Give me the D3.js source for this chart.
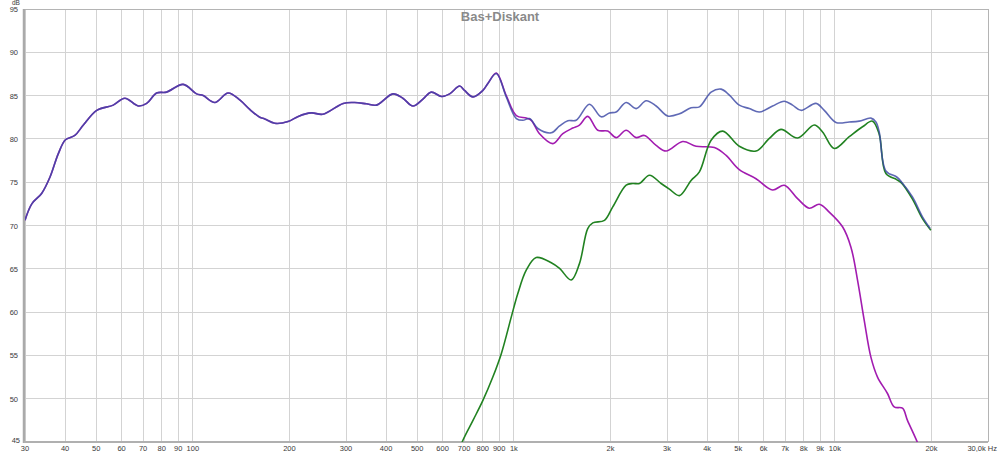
<!DOCTYPE html>
<html>
<head>
<meta charset="utf-8">
<script src="https://cdn.jsdelivr.net/npm/d3@7"></script>
<style>
  body { margin: 0; background: #fff; }
  svg { display: block; font-family: "Liberation Sans", Arial, sans-serif; }
</style>
</head>
<body>
<svg id="chart" width="1000" height="455"></svg>
<script>
// frequency response, values (Hz, dB)
const sumFreq = [30, 31.5, 33.8, 35.9, 38.1, 40.1, 42.9, 45.6, 50.2, 56.5, 61.4, 67.6, 71.8, 77.1, 82.8, 93.3, 102.7, 107.7, 117.1, 128.8, 140, 150.4, 161.6, 167.5, 180, 198, 213, 234, 254, 294, 319, 347, 373, 420, 451, 485, 521, 553, 595, 631, 678, 702, 746, 801, 830, 882, 947, 1018, 1067, 1119, 1188, 1308, 1388, 1473, 1564, 1720, 1871, 1985, 2083, 2238, 2404, 2583, 2775, 3015, 3280, 3566, 3785, 4116, 4422, 4693, 5039, 5415, 5818, 6398, 6959, 7384, 7842, 8733, 9269, 10080, 11088, 11910, 12951, 13425, 13746, 14421, 15582, 16150, 17452, 18749, 19815];
const sumDb = [70.6, 72.5, 73.7, 75.6, 78.3, 79.9, 80.4, 81.6, 83.3, 83.9, 84.7, 83.8, 84.1, 85.3, 85.4, 86.3, 85.2, 85.0, 84.2, 85.3, 84.5, 83.4, 82.5, 82.3, 81.8, 82.0, 82.6, 83.0, 82.85, 84.1, 84.2, 84.05, 83.9, 85.2, 84.7, 83.8, 84.6, 85.4, 84.9, 85.2, 86.1, 85.6, 84.85, 85.6, 86.4, 87.55, 84.85, 82.35, 82.15, 82.35, 81.2, 80.7, 81.5, 82.1, 82.15, 84.0, 82.55, 83.0, 83.1, 84.2, 83.5, 84.4, 83.8, 82.65, 82.9, 83.6, 83.7, 85.4, 85.75, 85.05, 83.9, 83.5, 83.1, 83.8, 84.35, 83.9, 83.3, 84.1, 83.3, 81.9, 81.95, 82.05, 82.4, 81.95, 80.8, 76.3, 75.6, 75.0, 73.3, 71.0, 69.65];

const bassFreq = [30, 31.5, 33.8, 35.9, 38.1, 40.1, 42.9, 45.6, 50.2, 56.5, 61.4, 67.6, 71.8, 77.1, 82.8, 93.3, 102.7, 107.7, 117.1, 128.8, 140, 150.4, 161.6, 167.5, 180, 198, 213, 234, 254, 294, 319, 347, 373, 420, 451, 485, 521, 553, 595, 631, 678, 702, 746, 801, 830, 882, 947, 1018, 1093, 1133, 1202, 1323, 1421, 1526, 1601, 1699, 1826, 1961, 2083, 2238, 2404, 2552, 2775, 2981, 3358, 3697, 4215, 4583, 5039, 5681, 6398, 6959, 7653, 8322, 8941, 9605, 10568, 11224, 11767, 12346, 12951, 13580, 14589, 15307, 16245, 16836, 18012, 18581];
const bassDb = [70.6, 72.5, 73.7, 75.6, 78.3, 79.9, 80.4, 81.6, 83.3, 83.9, 84.7, 83.8, 84.1, 85.3, 85.4, 86.3, 85.2, 85.0, 84.2, 85.3, 84.5, 83.4, 82.5, 82.3, 81.8, 82.0, 82.6, 83.0, 82.85, 84.1, 84.2, 84.05, 83.9, 85.2, 84.7, 83.8, 84.6, 85.4, 84.9, 85.2, 86.1, 85.6, 84.85, 85.6, 86.4, 87.6, 85.0, 82.7, 82.4, 82.15, 80.6, 79.45, 80.6, 81.25, 81.6, 82.6, 81.0, 80.9, 80.15, 81.0, 80.15, 80.4, 79.25, 78.6, 79.7, 79.15, 79.0, 78.1, 76.45, 75.4, 74.1, 74.65, 73.1, 72.0, 72.45, 71.55, 69.85, 67.5, 63.7, 59.05, 54.8, 52.5, 50.6, 49.05, 48.9, 47.5, 45.1, 43.8];

const trebleFreq = [654, 694, 746, 801, 860, 914, 982, 1029, 1093, 1174, 1308, 1388, 1509, 1601, 1699, 1762, 1916, 2033, 2238, 2346, 2462, 2645, 2876, 3052, 3280, 3566, 3785, 4116, 4472, 5039, 5681, 6250, 6795, 7653, 8627, 9156, 9958, 11088, 12196, 13101, 13746, 14421, 15582, 16150, 17452, 18749, 19914];
const trebleDb = [42.7, 45.2, 47.5, 49.8, 52.5, 55.2, 59.45, 62.15, 64.85, 66.3, 65.7, 65.05, 63.7, 65.6, 69.65, 70.3, 70.6, 72.15, 74.65, 74.85, 74.85, 75.8, 74.85, 74.2, 73.45, 75.2, 76.2, 79.85, 80.9, 79.15, 78.6, 80.05, 81.1, 80.1, 81.6, 80.8, 78.9, 80.25, 81.4, 82.05, 80.55, 76.0, 75.3, 74.9, 73.05, 70.8, 69.45];

const xTicks = [30, 40, 50, 60, 70, 80, 90, 100, 200, 300, 400, 500, 600, 700, 800, 900, 1000, 2000, 3000, 4000, 5000, 6000, 7000, 8000, 9000, 10000, 20000];
const xTickLabels = ["30", "40", "50", "60", "70", "80", "90", "100", "200", "300", "400", "500", "600", "700", "800", "900", "1k", "2k", "3k", "4k", "5k", "6k", "7k", "8k", "9k", "10k", "20k"];
const yTicks = [45, 50, 55, 60, 65, 70, 75, 80, 85, 90, 95];

const svg = d3.select("#chart");
const plotLeft = 25, plotRight = 988, plotTop = 9, plotBottom = 442;

const x = d3.scaleLog().domain([30, 30000]).range([plotLeft, plotRight]);
const y = d3.scaleLinear().domain([45, 95]).range([plotBottom, plotTop]);

// grid
svg.append("g")
	.selectAll("line")
	.data(xTicks)
	.enter().append("line")
	.attr("x1", d => x(d)).attr("x2", d => x(d))
	.attr("y1", plotTop).attr("y2", plotBottom)
	.attr("stroke", "#d3d3d3").attr("stroke-width", 1)
	.attr("shape-rendering", "crispEdges");

svg.append("g")
	.selectAll("line")
	.data(yTicks)
	.enter().append("line")
	.attr("x1", plotLeft).attr("x2", plotRight)
	.attr("y1", d => y(d)).attr("y2", d => y(d))
	.attr("stroke", "#d3d3d3").attr("stroke-width", 1)
	.attr("shape-rendering", "crispEdges");

// frame
svg.append("path")
	.attr("d", `M${plotLeft},${plotTop}H${plotRight}V${plotBottom}`)
	.attr("fill", "none").attr("stroke", "#b4b4b4").attr("stroke-width", 1)
	.attr("shape-rendering", "crispEdges");
svg.append("line")
	.attr("x1", plotLeft - 1).attr("x2", plotLeft - 1).attr("y1", plotTop).attr("y2", plotBottom + 1)
	.attr("stroke", "#aaa").attr("stroke-width", 2.5);
svg.append("line")
	.attr("x1", plotLeft - 1).attr("x2", plotRight).attr("y1", plotBottom).attr("y2", plotBottom)
	.attr("stroke", "#b0b0b0").attr("stroke-width", 2);

// labels
svg.append("g")
	.selectAll("text")
	.data(xTicks)
	.enter().append("text")
	.attr("x", d => x(d)).attr("y", 451)
	.attr("text-anchor", "middle")
	.attr("font-size", 7.5).attr("fill", "#3a3a3a")
	.text((d, i) => xTickLabels[i]);

svg.append("text")
	.attr("x", 997).attr("y", 451)
	.attr("text-anchor", "end")
	.attr("font-size", 7.5).attr("fill", "#3a3a3a")
	.text("30,0k Hz");

svg.append("g")
	.selectAll("text")
	.data(yTicks)
	.enter().append("text")
	.attr("x", d => d === 45 ? 20 : 18)
	.attr("y", d => d === 45 ? y(d) + 1 : y(d) + 3)
	.attr("text-anchor", "end")
	.attr("font-size", 7.5).attr("fill", "#3a3a3a")
	.text(d => d);

svg.append("text")
	.attr("x", 12).attr("y", 5)
	.attr("font-size", 6.5).attr("fill", "#3a3a3a")
	.text("dB");

svg.append("text")
	.attr("x", 500).attr("y", 21)
	.attr("text-anchor", "middle")
	.attr("font-size", 13).attr("font-weight", "bold").attr("fill", "#8a8a8a")
	.text("Bas+Diskant");

// curves
svg.append("clipPath").attr("id", "plot")
	.append("rect").attr("x", plotLeft).attr("y", plotTop)
	.attr("width", plotRight - plotLeft).attr("height", plotBottom - plotTop);

const line = d3.line()
	.x(d => x(d[0]))
	.y(d => y(d[1]))
	.curve(d3.curveCatmullRom.alpha(0.5));

const curves = svg.append("g").attr("clip-path", "url(#plot)");

function drawCurve(freq, db, color, opacity) {
	curves.append("path")
		.datum(freq.map((f, i) => [f, db[i]]))
		.attr("d", line)
		.attr("fill", "none")
		.attr("stroke", color)
		.attr("stroke-opacity", opacity)
		.attr("stroke-width", 1.6);
}

drawCurve(bassFreq, bassDb, "#a21cb0", 1);
drawCurve(trebleFreq, trebleDb, "#218221", 1);
drawCurve(sumFreq, sumDb, "#3c48a5", 0.82);
</script>
</body>
</html>
